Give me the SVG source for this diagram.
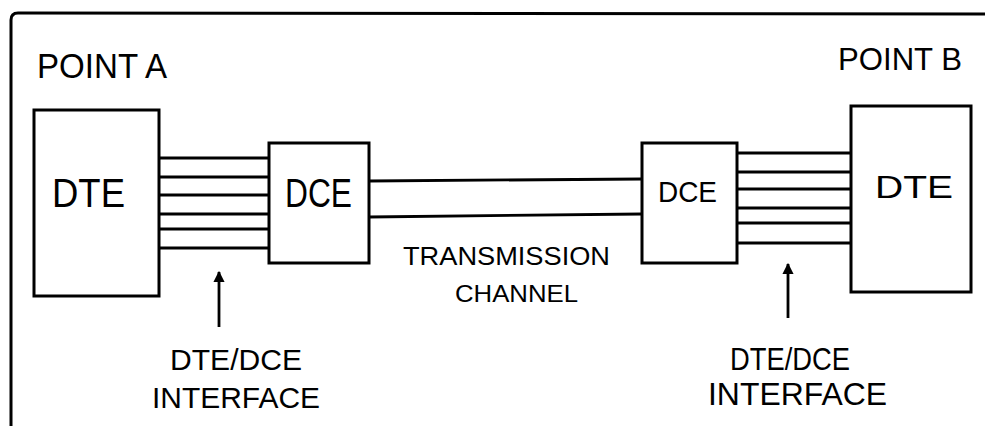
<svg xmlns="http://www.w3.org/2000/svg" width="985" height="426" viewBox="0 0 985 426">
<defs>
<style>
.box{fill:#fff;stroke:#000;stroke-width:3}
.ln{stroke:#000;stroke-width:2.8;fill:none}
.frame{stroke:#000;stroke-width:3;fill:none}
.t{font-family:"Liberation Sans","DejaVu Sans",sans-serif;fill:#000;lengthAdjust:spacingAndGlyphs}
</style>
<marker id="arr" viewBox="0 0 10 10" refX="9" refY="5" markerWidth="4" markerHeight="4" orient="auto" markerUnits="strokeWidth">
<path d="M0,0 L10,5 L0,10 z" fill="#000"/>
</marker>
</defs>
<rect width="985" height="426" fill="#fff"/>
<path class="frame" d="M11,426 L11,20 Q11,13 18,13 L985,14"/>
<text class="t" x="37" y="78" font-size="35" textLength="130" lengthAdjust="spacingAndGlyphs">POINT A</text>
<text class="t" x="838" y="70" font-size="31" textLength="124" lengthAdjust="spacingAndGlyphs">POINT B</text>
<g id="connectors">
<line class="ln" x1="159" y1="158" x2="269" y2="158"/>
<line class="ln" x1="159" y1="177" x2="269" y2="177"/>
<line class="ln" x1="159" y1="195" x2="269" y2="195"/>
<line class="ln" x1="159" y1="214" x2="269" y2="214"/>
<line class="ln" x1="159" y1="229" x2="269" y2="229"/>
<line class="ln" x1="159" y1="248" x2="269" y2="248"/>
<line class="ln" x1="369" y1="181" x2="642" y2="179"/>
<line class="ln" x1="369" y1="217" x2="642" y2="214"/>
<line class="ln" x1="737" y1="153" x2="851" y2="153"/>
<line class="ln" x1="737" y1="172" x2="851" y2="172"/>
<line class="ln" x1="737" y1="189" x2="851" y2="189"/>
<line class="ln" x1="737" y1="208" x2="851" y2="208"/>
<line class="ln" x1="737" y1="223" x2="851" y2="223"/>
<line class="ln" x1="737" y1="243" x2="851" y2="243"/>
<line class="ln" x1="219" y1="327" x2="219" y2="272" marker-end="url(#arr)"/>
<line class="ln" x1="788" y1="318" x2="788" y2="264" marker-end="url(#arr)"/>
</g>
<g id="dte-a">
<rect class="box" x="34" y="110" width="125" height="186"/>
<text class="t" x="52" y="207" font-size="40" textLength="73" lengthAdjust="spacingAndGlyphs">DTE</text>
</g>
<g id="dce-a">
<rect class="box" x="269" y="143" width="100" height="120"/>
<text class="t" x="285" y="207" font-size="40" textLength="67" lengthAdjust="spacingAndGlyphs">DCE</text>
</g>
<g id="dce-b">
<rect class="box" x="642" y="143" width="95" height="120"/>
<text class="t" x="658" y="202" font-size="29" textLength="59" lengthAdjust="spacingAndGlyphs">DCE</text>
</g>
<g id="dte-b">
<rect class="box" x="851" y="106" width="120" height="186"/>
<text class="t" x="875" y="198" font-size="32" textLength="78" lengthAdjust="spacingAndGlyphs">DTE</text>
</g>
<text class="t" x="403" y="265" font-size="25" textLength="207" lengthAdjust="spacingAndGlyphs">TRANSMISSION</text>
<text class="t" x="455" y="302" font-size="24" textLength="123" lengthAdjust="spacingAndGlyphs">CHANNEL</text>
<text class="t" x="170" y="370" font-size="30" textLength="132" lengthAdjust="spacingAndGlyphs">DTE/DCE</text>
<text class="t" x="152" y="408" font-size="29" textLength="168" lengthAdjust="spacingAndGlyphs">INTERFACE</text>
<text class="t" x="730" y="370" font-size="31" textLength="120" lengthAdjust="spacingAndGlyphs">DTE/DCE</text>
<text class="t" x="708" y="405" font-size="31" textLength="179" lengthAdjust="spacingAndGlyphs">INTERFACE</text>
</svg>
